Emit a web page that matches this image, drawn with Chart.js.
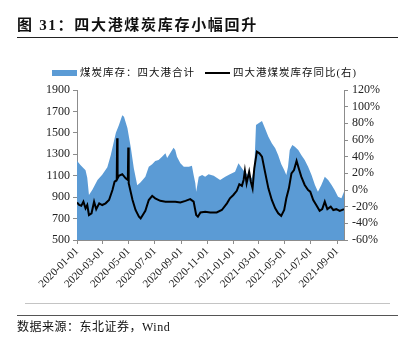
<!DOCTYPE html>
<html>
<head>
<meta charset="utf-8">
<script src="https://cdn.jsdelivr.net/npm/chart.js@4/dist/chart.umd.min.js"></script>
<style>
  body { margin: 0; background: #fff; }
  #wrap { position: relative; width: 403px; height: 339px; overflow: hidden; font-family: "Liberation Serif", "Noto Sans CJK SC", serif; color: #111; }
  #chart { position: absolute; left: 0; top: 0; }
  .abs { position: absolute; white-space: nowrap; }
  #title { left: 17px; top: 15px; font-size: 15px; font-weight: bold; letter-spacing: 1.7px; line-height: 20px; }
  #titleLine { left: 17px; top: 37px; width: 381px; height: 0; border-top: 1.3px solid #222; }
  .legText { font-size: 10.5px; letter-spacing: 1px; line-height: 14px; top: 66px; }
  #legBox { left: 52px; top: 70px; width: 25px; height: 6px; background: #5b9bd5; }
  #legLine { left: 205px; top: 72px; width: 25px; height: 2px; background: #000; }
  #grayLine { left: 25px; top: 303px; width: 365px; height: 0; border-top: 1px solid #c4c4c4; }
  #darkLine { left: 17px; top: 315px; width: 381px; height: 0; border-top: 1.5px solid #555; }
  #source { left: 17px; top: 319px; font-size: 12px; letter-spacing: 0.5px; line-height: 16px; }
</style>
</head>
<body>
<div id="wrap">
  <canvas id="chart" width="403" height="339"></canvas>
  <div class="abs" id="title">图 31：四大港煤炭库存小幅回升</div>
  <div class="abs" id="titleLine"></div>
  <div class="abs" id="legBox"></div>
  <div class="abs legText" style="left:80px">煤炭库存：四大港合计</div>
  <div class="abs" id="legLine"></div>
  <div class="abs legText" style="left:233px">四大港煤炭库存同比(右)</div>
  <div class="abs" id="grayLine"></div>
  <div class="abs" id="darkLine"></div>
  <div class="abs" id="source">数据来源：东北证券，Wind</div>
</div>
<script>
// x-axis tick labels
const tickLabels = ['2020-01-01', '2020-03-01', '2020-05-01', '2020-07-01', '2020-09-01', '2020-11-01',
  '2021-01-01', '2021-03-01', '2021-05-01', '2021-07-01', '2021-09-01'];
const lastDate = '2021-09-17';

// 煤炭库存：四大港合计 (万吨), left axis
const stockDates = [
  '2020-01-01', '2020-01-09', '2020-01-21', '2020-01-25', '2020-01-29', '2020-02-06', '2020-02-18', '2020-02-29',
  '2020-03-12', '2020-03-20', '2020-04-01', '2020-04-08', '2020-04-16', '2020-04-20', '2020-04-28', '2020-05-06',
  '2020-05-13', '2020-05-21', '2020-05-29', '2020-06-09', '2020-06-17', '2020-06-25', '2020-07-02', '2020-07-10',
  '2020-07-18', '2020-07-26', '2020-07-30', '2020-08-06', '2020-08-14', '2020-08-18', '2020-08-22', '2020-08-30',
  '2020-09-07', '2020-09-19', '2020-09-26', '2020-09-30', '2020-10-04', '2020-10-06', '2020-10-12', '2020-10-20',
  '2020-10-27', '2020-11-04', '2020-11-16', '2020-12-01', '2020-12-13', '2020-12-24', '2021-01-05', '2021-01-13',
  '2021-01-21', '2021-01-28', '2021-02-05', '2021-02-13', '2021-02-19', '2021-02-23', '2021-03-01', '2021-03-09',
  '2021-03-16', '2021-03-24', '2021-04-01', '2021-04-09', '2021-04-16', '2021-04-23', '2021-04-30', '2021-05-05',
  '2021-05-09', '2021-05-13', '2021-05-19', '2021-05-25', '2021-06-02', '2021-06-09', '2021-06-17', '2021-06-25',
  '2021-07-03', '2021-07-11', '2021-07-18', '2021-07-26', '2021-08-03', '2021-08-11', '2021-08-19', '2021-08-26',
  '2021-09-03', '2021-09-11', '2021-09-17'
];
const stockValues = [
  1240, 1200, 1150, 1080, 920, 970, 1060, 1110,
  1180, 1290, 1500, 1570, 1665, 1650, 1545, 1360,
  1170, 1010, 1040, 1090, 1184, 1206, 1237, 1247,
  1278, 1309, 1265, 1309, 1362, 1340, 1278, 1216,
  1184, 1184, 1193, 1107, 1029, 951, 1091, 1107,
  1091, 1113, 1100, 1060, 1091, 1113, 1138, 1216,
  1169, 1132, 1107, 1076, 1169, 1573, 1589, 1611,
  1542, 1464, 1402, 1356, 1290, 1210, 1153, 1107,
  1184, 1340, 1387, 1371, 1340, 1293, 1247, 1184,
  1107, 1013, 951, 1013, 1091, 1060, 1013, 967,
  904, 889, 951
];

// 四大港煤炭库存同比 (%), right axis
const yoyDates = [
  '2020-01-01', '2020-01-06', '2020-01-11', '2020-01-16', '2020-01-21', '2020-01-25', '2020-01-29', '2020-02-04',
  '2020-02-10', '2020-02-15', '2020-02-22', '2020-02-29', '2020-03-08', '2020-03-16', '2020-03-24', '2020-03-29',
  '2020-04-03', '2020-04-04', '2020-04-05', '2020-04-08', '2020-04-16', '2020-04-24', '2020-04-29', '2020-04-30',
  '2020-05-01', '2020-05-02', '2020-05-10', '2020-05-17', '2020-05-25', '2020-05-29', '2020-06-03', '2020-06-09',
  '2020-06-17', '2020-06-25', '2020-07-02', '2020-07-14', '2020-07-26', '2020-08-06', '2020-08-18', '2020-08-30',
  '2020-09-11', '2020-09-22', '2020-09-30', '2020-10-06', '2020-10-10', '2020-10-16', '2020-10-27', '2020-11-08',
  '2020-11-23', '2020-12-05', '2020-12-17', '2020-12-24', '2021-01-01', '2021-01-09', '2021-01-15', '2021-01-21',
  '2021-01-25', '2021-01-28', '2021-02-01', '2021-02-07', '2021-02-11', '2021-02-15', '2021-02-19', '2021-02-25',
  '2021-03-03', '2021-03-09', '2021-03-16', '2021-03-24', '2021-04-01', '2021-04-09', '2021-04-16', '2021-04-23',
  '2021-04-30', '2021-05-05', '2021-05-11', '2021-05-17', '2021-05-23', '2021-05-29', '2021-06-03', '2021-06-09',
  '2021-06-17', '2021-06-25', '2021-06-30', '2021-07-07', '2021-07-14', '2021-07-22', '2021-07-28', '2021-08-03',
  '2021-08-09', '2021-08-17', '2021-08-23', '2021-08-30', '2021-09-07', '2021-09-17'
];
const yoyValues = [
  -15, -18, -19, -14, -22, -18, -30, -28,
  -14, -23, -16, -18, -16, -12, 0, 10,
  12, 62, 14, 17, 19, 14, 12, 51,
  8, 6, -12, -24, -32, -34, -30, -25,
  -12, -7, -10, -13, -14, -14, -14, -15,
  -13, -11, -14, -30, -32, -27, -26, -27,
  -27, -24, -16, -10, -6, -1, 7, 5,
  12, 23, 8, 22, 10, 2, 26, 46,
  44, 40, 22, 2, -12, -22, -28, -31,
  -24, -10, 2, 20, 24, 35, 26, 16,
  6, 0, -2, -12, -18, -25, -23, -14,
  -23, -20, -24, -23, -25, -23
];

const leftTicks = [500, 700, 900, 1100, 1300, 1500, 1700, 1900];
const rightTicks = [-60, -40, -20, 0, 20, 40, 60, 80, 100, 120];

const t0 = Date.UTC(2020, 0, 1);
function toDay(s) {
  const p = s.split('-').map(Number);
  return Math.round((Date.UTC(p[0], p[1] - 1, p[2]) - t0) / 86400000);
}
const dayToLabel = {};
tickLabels.forEach(l => { dayToLabel[toDay(l)] = l; });

const serif = '"Liberation Serif", "Times New Roman", serif';
const axisGray = '#8c8c8c';

new Chart(document.getElementById('chart'), {
  type: 'line',
  data: {
    datasets: [
      {
        label: '煤炭库存：四大港合计',
        data: stockDates.map((d, i) => ({ x: toDay(d), y: stockValues[i] })),
        yAxisID: 'y',
        backgroundColor: '#5b9bd5',
        borderWidth: 0,
        pointRadius: 0,
        fill: 'start',
        order: 1
      },
      {
        label: '四大港煤炭库存同比(右)',
        data: yoyDates.map((d, i) => ({ x: toDay(d), y: yoyValues[i] })),
        yAxisID: 'y1',
        borderColor: '#000',
        borderWidth: 2,
        pointRadius: 0,
        fill: false,
        order: 0
      }
    ]
  },
  options: {
    responsive: false,
    animation: false,
    events: [],
    layout: { padding: { top: 90, left: 0, right: 0, bottom: 0 } },
    plugins: { legend: { display: false }, tooltip: { enabled: false } },
    scales: {
      x: {
        type: 'linear',
        min: 0,
        max: toDay(lastDate),
        afterBuildTicks: s => { s.ticks = tickLabels.map(l => ({ value: toDay(l) })); },
        afterFit: s => { s.height = 99; },
        grid: { display: true, drawOnChartArea: false, drawTicks: true, tickLength: 4, color: axisGray },
        border: { color: axisGray, width: 1 },
        ticks: {
          autoSkip: false,
          maxRotation: 45,
          minRotation: 45,
          padding: 1,
          color: '#222',
          font: { family: serif, size: 11 },
          callback: v => dayToLabel[v] || ''
        }
      },
      y: {
        position: 'left',
        min: 500,
        max: 1900,
        afterBuildTicks: s => { s.ticks = leftTicks.map(v => ({ value: v })); },
        afterFit: s => { s.width = 77; },
        grid: { display: true, drawOnChartArea: false, drawTicks: true, tickLength: 4, color: axisGray },
        border: { color: axisGray, width: 1 },
        ticks: { autoSkip: false, padding: 3, color: '#222', font: { family: serif, size: 12 }, callback: v => String(v) }
      },
      y1: {
        position: 'right',
        min: -60,
        max: 120,
        afterBuildTicks: s => { s.ticks = rightTicks.map(v => ({ value: v })); },
        afterFit: s => { s.width = 59; },
        grid: { display: true, drawOnChartArea: false, drawTicks: true, tickLength: 4, color: axisGray },
        border: { color: axisGray, width: 1 },
        ticks: { autoSkip: false, padding: 4, color: '#222', font: { family: serif, size: 12 }, callback: v => v + '%' }
      }
    }
  }
});
</script>
</body>
</html>
